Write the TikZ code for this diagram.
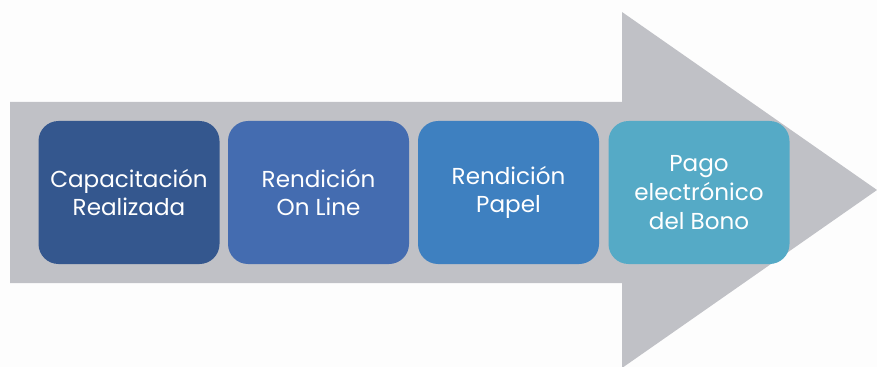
\documentclass[tikz,border=0pt]{standalone}
\usepackage{fontspec}
\setmainfont{Poppins}
\definecolor{arrowgray}{RGB}{192,193,198}
\definecolor{stepone}{RGB}{52,87,142}
\definecolor{steptwo}{RGB}{68,108,176}
\definecolor{stepthree}{RGB}{62,128,192}
\definecolor{stepfour}{RGB}{85,170,198}
\tikzset{every picture/.style={line width=0.75pt}}
\tikzset{stepbox/.style={rounded corners=15pt, minimum width=135.75pt, minimum height=107.25pt, inner sep=0pt, align=center, text=white, font=\fontsize{17.3}{21.5}\selectfont}}

\begin{document}
\begin{tikzpicture}[x=0.75pt,y=0.75pt,yscale=-1,xscale=1]
\useasboundingbox [fill={rgb, 255:red, 253; green, 253; blue, 253 }] (0,0) rectangle (877,367);

%Shape: Right Arrow [id:dp1] 
\fill [arrowgray] (10,102) -- (622,102) -- (622,12) -- (877,190) -- (622,368) -- (622,283) -- (10,283) -- cycle ;

%Shape: Rounded Rect [id:dp2] 
\node [stepbox, fill=stepone] (capac) at (129,192.5) {Capacitación\\Realizada};
%Shape: Rounded Rect [id:dp3] 
\node [stepbox, fill=steptwo] (online) at (318.5,192.5) {Rendición\\On Line};
%Shape: Rounded Rect [id:dp4] 
\node [stepbox, fill=stepthree] (papel) at (508.5,192.5) {Rendición\\Papel};
%Shape: Rounded Rect [id:dp5] 
\node [stepbox, fill=stepfour] (pago) at (699,192.5) {Pago\\electrónico\\del Bono};

\end{tikzpicture}
\end{document}
